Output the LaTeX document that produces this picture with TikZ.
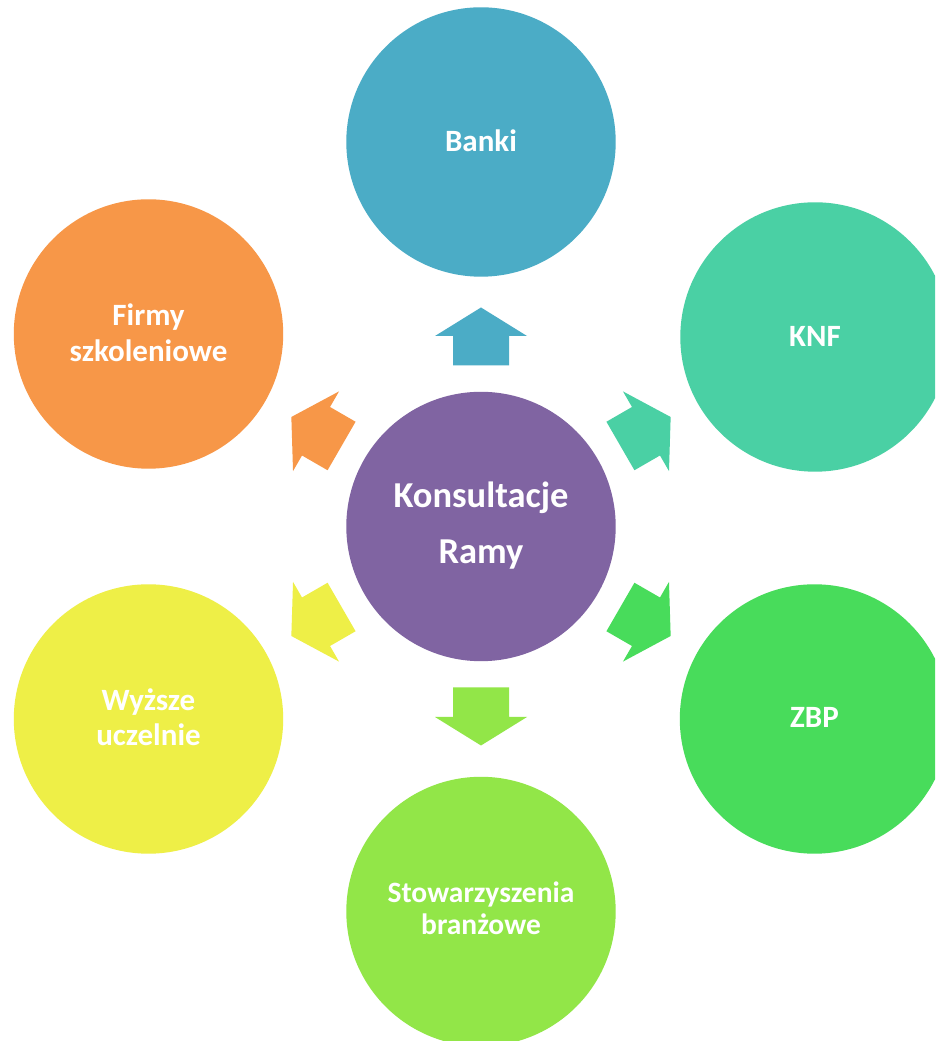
\documentclass[tikz,border=0pt]{standalone}
\usepackage{fontspec}
\setmainfont{Carlito}
\definecolor{cPurple}{HTML}{8064A2}
\definecolor{cBlue}{HTML}{4BACC6}
\definecolor{cTeal}{HTML}{4AD0A4}
\definecolor{cGreen}{HTML}{48DC5B}
\definecolor{cLime}{HTML}{92E648}
\definecolor{cYellow}{HTML}{EEEF47}
\definecolor{cOrange}{HTML}{F79748}
\tikzset{
  bubble/.style={circle, minimum size=269.4pt, inner sep=0pt, draw=none, fill=#1},
  lbl/.style={text=white, anchor=base, inner sep=0pt, font=\bfseries\fontsize{31}{36}\selectfont},
  lblsmall/.style={lbl, font=\bfseries\fontsize{29.5}{34}\selectfont},
  lblbig/.style={lbl, font=\bfseries\fontsize{36.5}{44}\selectfont},
}
\newcommand{\radarrow}[2]{%
  \begin{scope}[shift={(ctr.center)}, rotate=#1]
    \fill[#2] (161,-28) -- (190.5,-28) -- (190.5,-46) -- (219,0) -- (190.5,46) -- (190.5,28) -- (161,28) -- cycle;
  \end{scope}}
\begin{document}
\begin{tikzpicture}[x=1pt,y=1pt]
  \clip (0,0) rectangle (935,1041);
  \fill[white] (0,0) rectangle (935,1041);
  % circles
  \node[bubble=cPurple] (ctr) at (481,514.5) {};
  \node[bubble=cBlue]   (banki) at (481,899) {};
  \node[bubble=cTeal]   (knf) at (815,704) {};
  \node[bubble=cGreen]  (zbp) at (814.5,322) {};
  \node[bubble=cLime]   (stow) at (481,129.5) {};
  \node[bubble=cYellow] (wyz) at (148.5,322) {};
  \node[bubble=cOrange] (firmy) at (148.5,707) {};
  % arrows
  \radarrow{90}{cBlue}
  \radarrow{30}{cTeal}
  \radarrow{-30}{cGreen}
  \radarrow{-90}{cLime}
  \radarrow{-150}{cYellow}
  \radarrow{150}{cOrange}
  % labels
  \node[lblbig] (ctr-a) at ([yshift=18.5pt]ctr.center) {Konsultacje};
  \node[lblbig] (ctr-b) at ([yshift=-37.5pt]ctr.center) {Ramy};
  \node[lbl] (banki-t) at ([yshift=-10pt]banki.center) {Banki};
  \node[lbl] (knf-t) at ([yshift=-9.5pt]knf.center) {KNF};
  \node[lbl] (zbp-t) at ([yshift=-8.5pt]zbp.center) {ZBP};
  \node[lblsmall] (stow-a) at ([yshift=8.8pt]stow.center) {Stowarzyszenia};
  \node[lblsmall] (stow-b) at ([yshift=-23.5pt]stow.center) {branżowe};
  \node[lbl] (wyz-a) at ([yshift=8.3pt]wyz.center) {Wyższe};
  \node[lbl] (wyz-b) at ([yshift=-26.8pt]wyz.center) {uczelnie};
  \node[lbl] (firmy-a) at ([yshift=8pt]firmy.center) {Firmy};
  \node[lbl] (firmy-b) at ([yshift=-27.7pt]firmy.center) {szkoleniowe};
\end{tikzpicture}
\end{document}
